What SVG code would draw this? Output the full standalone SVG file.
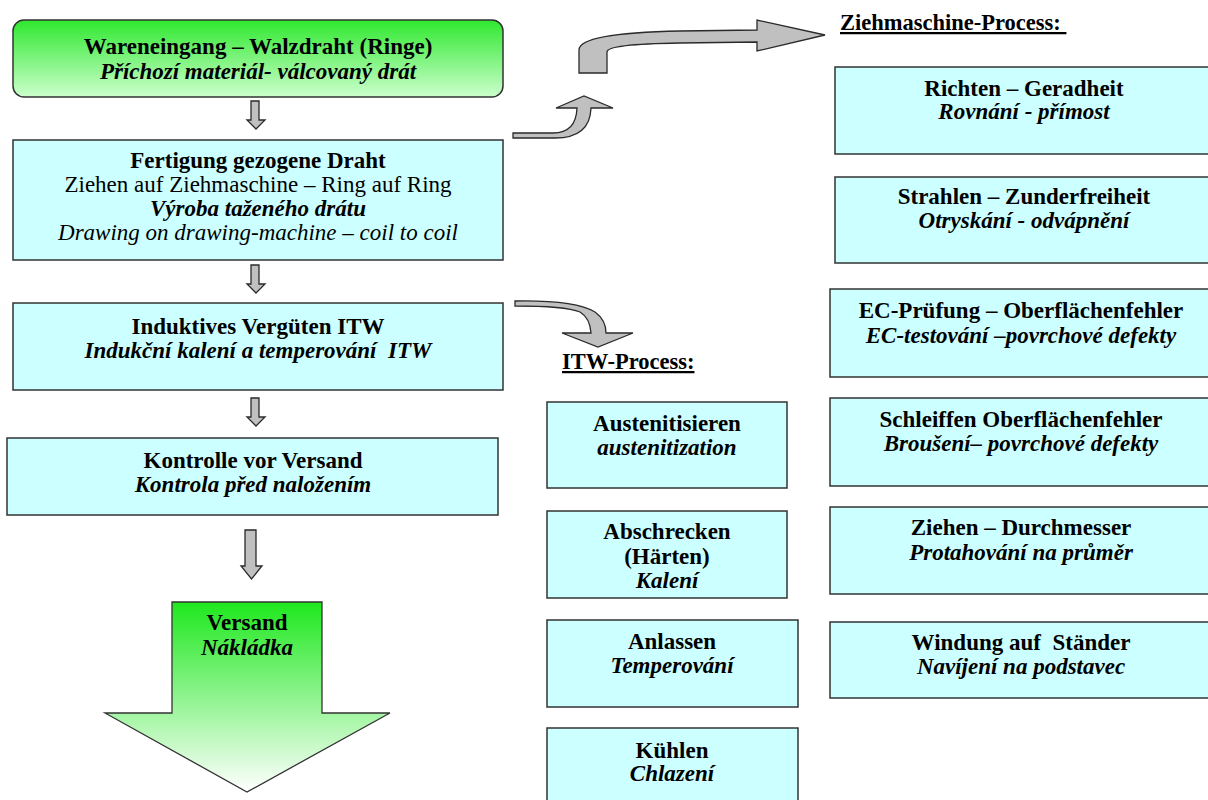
<svg xmlns="http://www.w3.org/2000/svg" width="1208" height="800" viewBox="0 0 1208 800">
<defs>
<linearGradient id="gTop" x1="0" y1="0" x2="0" y2="1">
<stop offset="0" stop-color="#2fe82f"/>
<stop offset="1" stop-color="#ccffcc"/>
</linearGradient>
<linearGradient id="gShip" x1="0" y1="0" x2="0" y2="1">
<stop offset="0" stop-color="#1ee81e"/>
<stop offset="1" stop-color="#ffffff"/>
</linearGradient>
<style>
.box{fill:#ccffff;stroke:#333;stroke-width:1.5}
.arr{fill:#c0c0c0;stroke:#2a2a2a;stroke-width:1.3;stroke-linejoin:miter}
text{font-family:"Liberation Serif","Times New Roman",serif;font-size:23px;fill:#000;text-anchor:middle}
.b{font-weight:bold}
.i{font-style:italic}
.bi{font-weight:bold;font-style:italic}
.h{font-weight:bold;font-size:22.5px;text-anchor:start;text-decoration:underline}
</style>
</defs>
<rect width="1208" height="800" fill="#fff"/>

<g id="connectors">
<path class="arr" d="M251,101 L259,101 L259,120 L265,120 L256,129 L247,120 L251,120 Z"/>
<path class="arr" d="M251,265 L259,265 L259,284 L265,284 L256,293 L247,284 L251,284 Z"/>
<path class="arr" d="M251,398 L259,398 L259,417 L265,417 L256,426 L247,417 L251,417 Z"/>
<path class="arr" d="M245,530 L256,530 L256,566 L262,566 L251.5,579 L241,566 L245,566 Z"/>
<path id="arrowToDraw1" class="arr" d="M513,133 L553,133 Q576,133 577,108 L556,108 L584,96 L613,108 L591,108 Q590,138 555,138 L513,138 Z"/>
<path id="arrowToDraw2" class="arr" d="M579,73 L579,50 Q579,33 680,31 L757,30 L757,20 L825,35 L757,51 L757,42 L680,43 Q607,44 607,52 L607,73 Z"/>
<path id="arrowToITW" class="arr" d="M515,301 Q575,300 595,312 Q606,320 606,333 L633,333 L598,347 L562,333 L591,333 Q590,318 580,312 Q565,306 515,306 Z"/>
</g>

<g id="n-wareneingang">
<rect x="13" y="20" width="490" height="77" rx="11" fill="url(#gTop)" stroke="#333" stroke-width="1.5"/>
<text x="258" y="54" class="b">Wareneingang – Walzdraht (Ringe)</text>
<text x="258" y="79" class="bi">Příchozí materiál- válcovaný drát</text>
</g>

<g id="n-fertigung">
<rect class="box" x="13" y="140" width="490" height="120"/>
<text x="258" y="168" class="b">Fertigung gezogene Draht</text>
<text x="258" y="192">Ziehen auf Ziehmaschine – Ring auf Ring</text>
<text x="258" y="216" class="bi">Výroba taženého drátu</text>
<text x="258" y="240" class="i">Drawing on drawing-machine – coil to coil</text>
</g>

<g id="n-induktiv">
<rect class="box" x="13" y="303" width="490" height="87"/>
<text x="258" y="334" class="b">Induktives Vergüten ITW</text>
<text x="258" y="358" class="bi">Indukční kalení a temperování&#160; ITW</text>
</g>

<g id="n-kontrolle">
<rect class="box" x="7" y="438" width="491" height="77"/>
<text x="253" y="468" class="b">Kontrolle vor Versand</text>
<text x="253" y="492" class="bi">Kontrola před naložením</text>
</g>

<g id="n-versand">
<path d="M172,602 L322,602 L322,713 L390,713 L247,792 L105,713 L172,713 Z" fill="url(#gShip)" stroke="#333" stroke-width="1.3"/>
<text x="247" y="630" class="b">Versand</text>
<text x="247" y="655" class="bi">Nákládka</text>
</g>

<g id="n-itw-title">
<text x="562" y="369" class="h">ITW-Process:</text>
</g>

<g id="n-austenitisieren">
<rect class="box" x="547" y="402" width="240" height="86"/>
<text x="667" y="431" class="b">Austenitisieren</text>
<text x="667" y="455" class="bi">austenitization</text>
</g>

<g id="n-abschrecken">
<rect class="box" x="547" y="511" width="240" height="87"/>
<text x="667" y="539" class="b">Abschrecken</text>
<text x="667" y="564" class="b">(Härten)</text>
<text x="667" y="588" class="bi">Kalení</text>
</g>

<g id="n-anlassen">
<rect class="box" x="547" y="620" width="251" height="87"/>
<text x="672" y="649" class="b">Anlassen</text>
<text x="672" y="673" class="bi">Temperování</text>
</g>

<g id="n-kuehlen">
<rect class="box" x="547" y="728" width="251" height="80"/>
<text x="672" y="758" class="b">Kühlen</text>
<text x="672" y="781" class="bi">Chlazení</text>
</g>

<g id="n-zieh-title">
<text x="840" y="30" class="h">Ziehmaschine-Process:&#160;</text>
</g>

<g id="n-richten">
<rect class="box" x="835" y="67" width="380" height="87"/>
<text x="1024" y="96" class="b">Richten – Geradheit</text>
<text x="1024" y="119" class="bi">Rovnání - přímost</text>
</g>

<g id="n-strahlen">
<rect class="box" x="835" y="177" width="380" height="86"/>
<text x="1024" y="204" class="b">Strahlen – Zunderfreiheit</text>
<text x="1024" y="228" class="bi">Otryskání - odvápnění</text>
</g>

<g id="n-ecpruefung">
<rect class="box" x="830" y="289" width="385" height="88"/>
<text x="1021" y="318" class="b">EC-Prüfung – Oberflächenfehler</text>
<text x="1021" y="343" class="bi">EC-testování –povrchové defekty</text>
</g>

<g id="n-schleiffen">
<rect class="box" x="830" y="398" width="385" height="88"/>
<text x="1021" y="427" class="b">Schleiffen Oberflächenfehler</text>
<text x="1021" y="451" class="bi">Broušení– povrchové defekty</text>
</g>

<g id="n-ziehen">
<rect class="box" x="830" y="507" width="385" height="87"/>
<text x="1021" y="535" class="b">Ziehen – Durchmesser</text>
<text x="1021" y="560" class="bi">Protahování na průměr</text>
</g>

<g id="n-windung">
<rect class="box" x="830" y="622" width="385" height="76"/>
<text x="1021" y="650" class="b">Windung auf&#160; Ständer</text>
<text x="1021" y="674" class="bi">Navíjení na podstavec</text>
</g>
</svg>
